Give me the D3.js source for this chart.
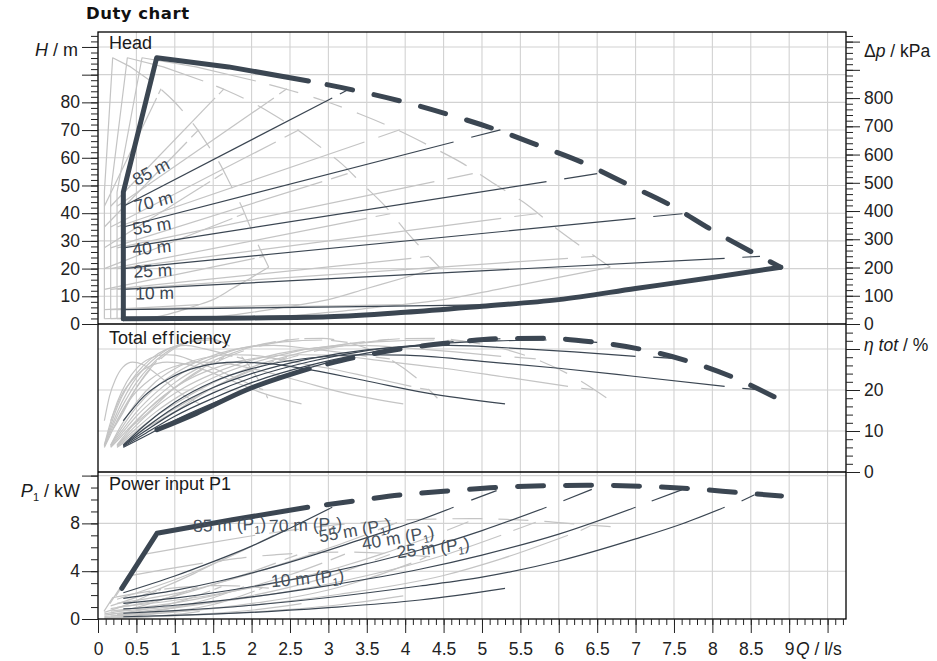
<!DOCTYPE html>
<html>
<head>
<meta charset="utf-8">
<script src="https://cdn.jsdelivr.net/npm/d3@7"></script>
<style>
  body { margin: 0; background: #fff; }
  text { font-family: "Liberation Sans", Arial, sans-serif; }
</style>
</head>
<body>
<script>
// ---------- data: Q in l/s, H in m, eta in %, P1 in kW ----------
// curves for 1, 2, 3 pumps (grey) and 4 pumps (dark)
// each "Prop" list: 85 m, 70 m, 55 m, 40 m, 25 m, 10 m ; [solid part, dashed end]
const propLabels = ["85 m", "70 m", "55 m", "40 m", "25 m", "10 m"];
const xTickLabels = [0, 0.5, 1, 1.5, 2, 2.5, 3, 3.5, 4, 4.5, 5, 5.5, 6, 6.5, 7, 7.5, 8, 8.5, 9];
const hTickLabels = [0, 10, 20, 30, 40, 50, 60, 70, 80];
const kpaTickLabels = [0, 100, 200, 300, 400, 500, 600, 700, 800];
const etaTickLabels = [0, 10, 20];
const pTickLabels = [0, 4, 8];

// Head
const head4Env = [[0.33,1.9],[0.33,47.6],[0.764,96.1],[1.7,92.8],[2.74,87.7]];
const head4Max = [[2.74,87.7],[3.35,84.3],[3.95,80.4],[4.53,75.9],[5.21,69.9],[5.74,64.4],[6.35,57.8],[6.88,50.6],[7.46,42.8],[7.99,34.0],[8.54,25.6],[8.89,20.5]];
const head4Min = [[0.33,1.9],[1,2.0],[2,2.2],[3,2.6],[4,4.2],[5,6.4],[6,8.8],[7,12.8],[8,16.8],[8.89,20.5]];
const head4Prop = [
  [[[0.33,42.5],[3.05,81.6]], [[3.15,83.0],[3.28,84.9]]],
  [[[0.33,35.0],[4.63,65.7]], [[4.86,67.4],[5.24,70.1]]],
  [[[0.33,27.5],[5.84,51.4]], [[6.07,52.4],[6.50,54.3]]],
  [[[0.33,20.0],[7.00,38.1]], [[7.23,38.8],[7.61,39.8]]],
  [[[0.33,12.5],[8.16,23.7]], [[8.39,24.1],[8.62,24.4]]],
  [[[0.33,5.2],[3.15,6.2],[5.25,7.0]], []]
];
const head3Env = [[0.248,1.9],[0.248,47.6],[0.573,96.1],[1.275,92.8],[2.055,87.7]];
const head3Max = [[2.055,87.7],[2.51,84.3],[2.96,80.4],[3.40,75.9],[3.91,69.9],[4.31,64.4],[4.76,57.8],[5.16,50.6],[5.60,42.8],[5.99,34.0],[6.41,25.6],[6.67,20.5]];
const head3Min = [[0.248,1.9],[0.75,2.0],[1.5,2.2],[2.25,2.6],[3.0,4.2],[3.75,6.4],[4.5,8.8],[5.25,12.8],[6.0,16.8],[6.67,20.5]];
const head3Prop = [
  [[[0.248,42.5],[2.29,81.6]], [[2.36,83.0],[2.46,84.9]]],
  [[[0.248,35.0],[3.47,65.7]], [[3.65,67.4],[3.93,70.1]]],
  [[[0.248,27.5],[4.38,51.4]], [[4.55,52.4],[4.88,54.3]]],
  [[[0.248,20.0],[5.25,38.1]], [[5.42,38.8],[5.71,39.8]]],
  [[[0.248,12.5],[6.12,23.7]], [[6.29,24.1],[6.47,24.4]]],
  [[[0.248,5.2],[2.36,6.2],[3.94,7.0]], []]
];
const head2Env = [[0.165,1.9],[0.165,47.6],[0.382,96.1],[0.85,92.8],[1.37,87.7]];
const head2Max = [[1.37,87.7],[1.675,84.3],[1.975,80.4],[2.265,75.9],[2.605,69.9],[2.87,64.4],[3.175,57.8],[3.44,50.6],[3.73,42.8],[3.995,34.0],[4.27,25.6],[4.445,20.5]];
const head2Min = [[0.165,1.9],[0.5,2.0],[1.0,2.2],[1.5,2.6],[2.0,4.2],[2.5,6.4],[3.0,8.8],[3.5,12.8],[4.0,16.8],[4.445,20.5]];
const head2Prop = [
  [[[0.165,42.5],[1.525,81.6]], [[1.575,83.0],[1.64,84.9]]],
  [[[0.165,35.0],[2.315,65.7]], [[2.43,67.4],[2.62,70.1]]],
  [[[0.165,27.5],[2.92,51.4]], [[3.035,52.4],[3.25,54.3]]],
  [[[0.165,20.0],[3.50,38.1]], [[3.615,38.8],[3.805,39.8]]],
  [[[0.165,12.5],[4.08,23.7]], [[4.195,24.1],[4.31,24.4]]],
  [[[0.165,5.2],[1.575,6.2],[2.625,7.0]], []]
];
const head1Env = [[0.083,1.9],[0.083,47.6],[0.191,96.1],[0.425,92.8],[0.685,87.7]];
const head1Max = [[0.685,87.7],[0.838,84.3],[0.988,80.4],[1.133,75.9],[1.303,69.9],[1.435,64.4],[1.588,57.8],[1.72,50.6],[1.865,42.8],[1.998,34.0],[2.135,25.6],[2.223,20.5]];
const head1Min = [[0.083,1.9],[0.25,2.0],[0.5,2.2],[0.75,2.6],[1.0,4.2],[1.25,6.4],[1.5,8.8],[1.75,12.8],[2.0,16.8],[2.223,20.5]];
const head1Prop = [
  [[[0.083,42.5],[0.763,81.6]], [[0.788,83.0],[0.82,84.9]]],
  [[[0.083,35.0],[1.158,65.7]], [[1.215,67.4],[1.31,70.1]]],
  [[[0.083,27.5],[1.46,51.4]], [[1.518,52.4],[1.625,54.3]]],
  [[[0.083,20.0],[1.75,38.1]], [[1.808,38.8],[1.903,39.8]]],
  [[[0.083,12.5],[2.04,23.7]], [[2.098,24.1],[2.155,24.4]]],
  [[[0.083,5.2],[0.788,6.2],[1.313,7.0]], []]
];

// Total efficiency
const eff4MaxSolid = [[0.768,10.3],[1.28,14.3],[1.93,20.0],[2.75,25.2]];
const eff4MaxDash = [[2.75,25.2],[3.36,28.0],[3.97,30.1],[4.58,31.5],[5.21,32.5],[5.84,32.6],[6.45,31.7],[7.08,29.9],[7.69,27.0],[8.27,23.1],[8.84,18.0]];
const eff4Prop = [
  [[[0.33,6.0],[0.6,8.6],[1.0,12.6],[1.5,16.8],[2.0,20.6],[2.5,24.0],[3.05,27.0]], [[3.15,27.4],[3.28,27.9]]],
  [[[0.33,6.2],[0.6,9.2],[1.0,13.6],[1.5,18.0],[2.0,21.8],[2.75,26.0],[3.5,29.0],[4.2,31.0],[4.63,31.8]], [[4.86,32.1],[5.24,32.5]]],
  [[[0.33,6.4],[0.6,9.8],[1.0,14.6],[1.5,19.3],[2.0,23.0],[2.75,26.9],[3.5,29.6],[4.5,31.4],[5.2,32.0],[5.84,32.2]], [[6.07,32.1],[6.5,31.6]]],
  [[[0.33,6.5],[0.6,10.5],[1.0,15.8],[1.5,20.6],[2.0,24.0],[2.75,27.6],[3.5,29.8],[4.58,30.9],[5.5,30.1],[6.2,29.3],[7.0,28.2]], [[7.23,28.0],[7.6,27.6]]],
  [[[0.33,6.6],[0.6,11.3],[1.0,17.0],[1.5,22.0],[2.0,25.2],[2.75,27.8],[3.5,28.6],[4.0,28.5],[5.0,27.0],[6.0,25.3],[7.0,23.3],[8.16,20.9]], [[8.39,20.4],[8.6,20.1]]],
  [[[0.33,12.5],[0.6,18.5],[0.9,22.5],[1.3,25.6],[1.8,26.8],[2.3,26.3],[2.77,24.9],[3.5,22.2],[4.27,19.3],[5.3,16.6]], []]
];
const eff3MaxSolid = [[0.576,10.3],[0.96,14.3],[1.448,20.0],[2.063,25.2]];
const eff3MaxDash = [[2.063,25.2],[2.52,28.0],[2.978,30.1],[3.435,31.5],[3.908,32.5],[4.38,32.6],[4.838,31.7],[5.31,29.9],[5.768,27.0],[6.203,23.1],[6.63,18.0]];
const eff3Prop = [
  [[[0.248,6.0],[0.45,8.6],[0.75,12.6],[1.125,16.8],[1.5,20.6],[1.875,24.0],[2.288,27.0]], [[2.363,27.4],[2.46,27.9]]],
  [[[0.248,6.2],[0.45,9.2],[0.75,13.6],[1.125,18.0],[1.5,21.8],[2.063,26.0],[2.625,29.0],[3.15,31.0],[3.473,31.8]], [[3.645,32.1],[3.93,32.5]]],
  [[[0.248,6.4],[0.45,9.8],[0.75,14.6],[1.125,19.3],[1.5,23.0],[2.063,26.9],[2.625,29.6],[3.375,31.4],[3.9,32.0],[4.38,32.2]], [[4.553,32.1],[4.875,31.6]]],
  [[[0.248,6.5],[0.45,10.5],[0.75,15.8],[1.125,20.6],[1.5,24.0],[2.063,27.6],[2.625,29.8],[3.435,30.9],[4.125,30.1],[4.65,29.3],[5.25,28.2]], [[5.423,28.0],[5.7,27.6]]],
  [[[0.248,6.6],[0.45,11.3],[0.75,17.0],[1.125,22.0],[1.5,25.2],[2.063,27.8],[2.625,28.6],[3.0,28.5],[3.75,27.0],[4.5,25.3],[5.25,23.3],[6.12,20.9]], [[6.293,20.4],[6.45,20.1]]],
  [[[0.248,12.5],[0.45,18.5],[0.675,22.5],[0.975,25.6],[1.35,26.8],[1.725,26.3],[2.078,24.9],[2.625,22.2],[3.203,19.3],[3.975,16.6]], []]
];
const eff2MaxSolid = [[0.384,10.3],[0.64,14.3],[0.965,20.0],[1.375,25.2]];
const eff2MaxDash = [[1.375,25.2],[1.68,28.0],[1.985,30.1],[2.29,31.5],[2.605,32.5],[2.92,32.6],[3.225,31.7],[3.54,29.9],[3.845,27.0],[4.135,23.1],[4.42,18.0]];
const eff2Prop = [
  [[[0.165,6.0],[0.3,8.6],[0.5,12.6],[0.75,16.8],[1.0,20.6],[1.25,24.0],[1.525,27.0]], [[1.575,27.4],[1.64,27.9]]],
  [[[0.165,6.2],[0.3,9.2],[0.5,13.6],[0.75,18.0],[1.0,21.8],[1.375,26.0],[1.75,29.0],[2.1,31.0],[2.315,31.8]], [[2.43,32.1],[2.62,32.5]]],
  [[[0.165,6.4],[0.3,9.8],[0.5,14.6],[0.75,19.3],[1.0,23.0],[1.375,26.9],[1.75,29.6],[2.25,31.4],[2.6,32.0],[2.92,32.2]], [[3.035,32.1],[3.25,31.6]]],
  [[[0.165,6.5],[0.3,10.5],[0.5,15.8],[0.75,20.6],[1.0,24.0],[1.375,27.6],[1.75,29.8],[2.29,30.9],[2.75,30.1],[3.1,29.3],[3.5,28.2]], [[3.615,28.0],[3.8,27.6]]],
  [[[0.165,6.6],[0.3,11.3],[0.5,17.0],[0.75,22.0],[1.0,25.2],[1.375,27.8],[1.75,28.6],[2.0,28.5],[2.5,27.0],[3.0,25.3],[3.5,23.3],[4.08,20.9]], [[4.195,20.4],[4.3,20.1]]],
  [[[0.165,12.5],[0.3,18.5],[0.45,22.5],[0.65,25.6],[0.9,26.8],[1.15,26.3],[1.385,24.9],[1.75,22.2],[2.135,19.3],[2.65,16.6]], []]
];
const eff1MaxSolid = [[0.192,10.3],[0.32,14.3],[0.483,20.0],[0.688,25.2]];
const eff1MaxDash = [[0.688,25.2],[0.84,28.0],[0.993,30.1],[1.145,31.5],[1.303,32.5],[1.46,32.6],[1.613,31.7],[1.77,29.9],[1.923,27.0],[2.068,23.1],[2.21,18.0]];
const eff1Prop = [
  [[[0.083,6.0],[0.15,8.6],[0.25,12.6],[0.375,16.8],[0.5,20.6],[0.625,24.0],[0.763,27.0]], [[0.788,27.4],[0.82,27.9]]],
  [[[0.083,6.2],[0.15,9.2],[0.25,13.6],[0.375,18.0],[0.5,21.8],[0.688,26.0],[0.875,29.0],[1.05,31.0],[1.158,31.8]], [[1.215,32.1],[1.31,32.5]]],
  [[[0.083,6.4],[0.15,9.8],[0.25,14.6],[0.375,19.3],[0.5,23.0],[0.688,26.9],[0.875,29.6],[1.125,31.4],[1.3,32.0],[1.46,32.2]], [[1.518,32.1],[1.625,31.6]]],
  [[[0.083,6.5],[0.15,10.5],[0.25,15.8],[0.375,20.6],[0.5,24.0],[0.688,27.6],[0.875,29.8],[1.145,30.9],[1.375,30.1],[1.55,29.3],[1.75,28.2]], [[1.808,28.0],[1.9,27.6]]],
  [[[0.083,6.6],[0.15,11.3],[0.25,17.0],[0.375,22.0],[0.5,25.2],[0.688,27.8],[0.875,28.6],[1.0,28.5],[1.25,27.0],[1.5,25.3],[1.75,23.3],[2.04,20.9]], [[2.098,20.4],[2.15,20.1]]],
  [[[0.083,12.5],[0.15,18.5],[0.225,22.5],[0.325,25.6],[0.45,26.8],[0.575,26.3],[0.693,24.9],[0.875,22.2],[1.068,19.3],[1.325,16.6]], []]
];

// Power input P1
const pow4MaxSolid = [[0.31,2.57],[0.768,7.17],[1.75,8.3],[2.73,9.35]];
const pow4MaxDash = [[2.73,9.35],[3.36,9.9],[3.97,10.4],[4.6,10.74],[5.23,11.02],[5.86,11.15],[6.47,11.2],[7.1,11.1],[7.73,10.9],[8.36,10.57],[8.9,10.3]];
const pow4Prop = [
  [[[0.33,2.2],[1.0,3.6],[1.5,4.8],[2.0,6.1],[2.5,7.6],[3.05,9.35]], [[3.15,9.6],[3.28,9.9]]],
  [[[0.33,1.73],[1.0,2.4],[1.6,3.2],[2.2,4.2],[2.8,5.35],[3.4,6.6],[3.9,7.65],[4.19,8.28],[4.63,9.35]], [[4.86,9.95],[5.19,10.74]]],
  [[[0.33,1.31],[1.0,1.75],[2.0,2.7],[3.0,3.9],[4.19,5.77],[5.0,7.4],[5.84,9.35]], [[6.06,9.9],[6.43,10.85]]],
  [[[0.33,0.84],[1.0,1.15],[2.0,1.85],[3.0,2.8],[4.19,4.16],[5.0,5.35],[6.0,7.1],[7.0,9.35]], [[7.21,9.87],[7.6,10.8]]],
  [[[0.33,0.48],[1.0,0.7],[2.0,1.15],[3.0,1.8],[4.19,2.76],[5.0,3.5],[6.0,4.85],[7.0,6.7],[7.6,7.95],[8.16,9.35]], [[8.38,9.87],[8.55,10.4]]],
  [[[0.33,0.19],[1.0,0.3],[2.0,0.55],[3.0,0.95],[4.19,1.59],[5.3,2.57]], []]
];
const pow3MaxSolid = [[0.233,1.93],[0.576,5.38],[1.313,6.23],[2.048,7.01]];
const pow3MaxDash = [[2.048,7.01],[2.52,7.43],[2.978,7.8],[3.45,8.06],[3.923,8.27],[4.395,8.36],[4.853,8.4],[5.325,8.33],[5.798,8.18],[6.27,7.93],[6.675,7.73]];
const pow3Prop = [
  [[[0.248,1.65],[1.125,3.6],[1.875,5.7],[2.288,7.01]], [[2.363,7.2],[2.46,7.43]]],
  [[[0.248,1.3],[1.2,2.4],[2.1,4.01],[2.925,5.74],[3.473,7.01]], [[3.645,7.46],[3.893,8.06]]],
  [[[0.248,0.98],[1.5,2.03],[3.143,4.33],[3.75,5.55],[4.38,7.01]], [[4.545,7.43],[4.823,8.14]]],
  [[[0.248,0.63],[1.5,1.39],[3.143,3.12],[4.5,5.33],[5.25,7.01]], [[5.408,7.4],[5.7,8.1]]],
  [[[0.248,0.36],[1.5,0.86],[3.143,2.07],[4.5,3.64],[5.25,5.03],[6.12,7.01]], [[6.285,7.4],[6.413,7.8]]],
  [[[0.248,0.14],[1.5,0.41],[3.143,1.19],[3.975,1.93]], []]
];
const pow2MaxSolid = [[0.155,1.29],[0.384,3.59],[0.875,4.15],[1.365,4.68]];
const pow2MaxDash = [[1.365,4.68],[1.68,4.95],[1.985,5.2],[2.3,5.37],[2.615,5.51],[2.93,5.58],[3.235,5.6],[3.55,5.55],[3.865,5.45],[4.18,5.29],[4.45,5.15]];
const pow2Prop = [
  [[[0.165,1.1],[0.75,2.4],[1.25,3.8],[1.525,4.68]], [[1.575,4.8],[1.64,4.95]]],
  [[[0.165,0.87],[0.8,1.6],[1.4,2.68],[1.95,3.83],[2.315,4.68]], [[2.43,4.98],[2.595,5.37]]],
  [[[0.165,0.66],[1.0,1.35],[2.095,2.89],[2.5,3.7],[2.92,4.68]], [[3.03,4.95],[3.215,5.43]]],
  [[[0.165,0.42],[1.0,0.93],[2.095,2.08],[3.0,3.55],[3.5,4.68]], [[3.605,4.94],[3.8,5.4]]],
  [[[0.165,0.24],[1.0,0.58],[2.095,1.38],[3.0,2.43],[3.5,3.35],[4.08,4.68]], [[4.19,4.94],[4.275,5.2]]],
  [[[0.165,0.1],[1.0,0.28],[2.095,0.8],[2.65,1.29]], []]
];
const pow1MaxSolid = [[0.078,0.64],[0.192,1.79],[0.438,2.08],[0.683,2.34]];
const pow1MaxDash = [[0.683,2.34],[0.84,2.48],[0.993,2.6],[1.15,2.69],[1.308,2.76],[1.465,2.79],[1.618,2.8],[1.775,2.78],[1.933,2.73],[2.09,2.64],[2.225,2.58]];
const pow1Prop = [
  [[[0.083,0.55],[0.375,1.2],[0.625,1.9],[0.763,2.34]], [[0.788,2.4],[0.82,2.48]]],
  [[[0.083,0.43],[0.4,0.8],[0.7,1.34],[0.975,1.91],[1.158,2.34]], [[1.215,2.49],[1.298,2.69]]],
  [[[0.083,0.33],[0.5,0.68],[1.048,1.44],[1.25,1.85],[1.46,2.34]], [[1.515,2.48],[1.608,2.71]]],
  [[[0.083,0.21],[0.5,0.46],[1.048,1.04],[1.5,1.78],[1.75,2.34]], [[1.803,2.47],[1.9,2.7]]],
  [[[0.083,0.12],[0.5,0.29],[1.048,0.69],[1.5,1.21],[1.75,1.68],[2.04,2.34]], [[2.095,2.47],[2.138,2.6]]],
  [[[0.083,0.05],[0.5,0.14],[1.048,0.4],[1.325,0.64]], []]
];

// ---------- layout ----------
const w = 937, h = 661;
const plotL = 98, plotR = 846, plotT = 32, sepA = 324, sepB = 472, plotB = 619;
const darkC = "#3b4652", greyC = "#c4c4c4", gridC = "#d2d2d2", textC = "#1a1a1a";
const fs = 17.5;

const x = d3.scaleLinear().domain([0, 9.74]).range([plotL, plotR]);
const yH = d3.scaleLinear().domain([0, 105.4]).range([sepA, plotT]);
const yKpa = d3.scaleLinear().domain([0, 1034]).range([sepA, plotT]);
const yE = d3.scaleLinear().domain([0, 36.1]).range([sepB, sepA]);
const yP = d3.scaleLinear().domain([0, 12.3]).range([plotB, sepB]);

const svg = d3.select("body").append("svg")
  .attr("width", w).attr("height", h);

// grid
const grid = svg.append("g").attr("stroke", gridC).attr("stroke-width", 1.1);
grid.selectAll(".gx").data(d3.range(1, 20).map(i => i * 0.5)).join("line")
  .attr("x1", d => x(d)).attr("x2", d => x(d)).attr("y1", plotT).attr("y2", plotB);
grid.selectAll(".gh").data(d3.range(1, 11).map(i => i * 10)).join("line")
  .attr("x1", plotL).attr("x2", plotR).attr("y1", d => yH(d)).attr("y2", d => yH(d));
grid.selectAll(".ge").data([10, 20, 30]).join("line")
  .attr("x1", plotL).attr("x2", plotR).attr("y1", d => yE(d)).attr("y2", d => yE(d));
grid.selectAll(".gp").data([4, 8, 12]).join("line")
  .attr("x1", plotL).attr("x2", plotR).attr("y1", d => yP(d)).attr("y2", d => yP(d));

// line helper
function line(g, pts, y, col, wid, curve) {
  if (!pts || pts.length < 2) return null;
  return g.append("path").datum(pts)
    .attr("d", d3.line().curve(curve || d3.curveLinear).x(d => x(d[0])).y(d => y(d[1])))
    .attr("fill", "none").attr("stroke", col).attr("stroke-width", wid)
    .attr("stroke-linejoin", "round");
}
const mono = d3.curveMonotoneX;

const greyG = svg.append("g");
const darkG = svg.append("g");

// grey sets (1, 2, 3 pumps)
[[head1Env, head1Max, head1Min, head1Prop],
 [head2Env, head2Max, head2Min, head2Prop],
 [head3Env, head3Max, head3Min, head3Prop]].forEach(([env, mx, mn, pr]) => {
  line(greyG, env, yH, greyC, 1.2);
  line(greyG, mx, yH, greyC, 1.2, mono).attr("stroke-dasharray", "30 16").attr("stroke-dashoffset", 32);
  line(greyG, mn, yH, greyC, 1.2, mono);
  pr.forEach(([s, d]) => { line(greyG, s, yH, greyC, 1.2); line(greyG, d, yH, greyC, 1.2); });
});
[[eff1MaxSolid, eff1MaxDash, eff1Prop, yE, mono],
 [eff2MaxSolid, eff2MaxDash, eff2Prop, yE, mono],
 [eff3MaxSolid, eff3MaxDash, eff3Prop, yE, mono],
 [pow1MaxSolid, pow1MaxDash, pow1Prop, yP, null],
 [pow2MaxSolid, pow2MaxDash, pow2Prop, yP, null],
 [pow3MaxSolid, pow3MaxDash, pow3Prop, yP, null]].forEach(([ms, md, pr, y, c]) => {
  line(greyG, ms, y, greyC, 1.2, c);
  line(greyG, md, y, greyC, 1.2, mono).attr("stroke-dasharray", "30 16").attr("stroke-dashoffset", 32);
  pr.forEach(([s, d]) => { line(greyG, s, y, greyC, 1.2, mono); line(greyG, d, y, greyC, 1.2); });
});

// dark set (4 pumps): thin lines
head4Prop.forEach(([s, d]) => { line(darkG, s, yH, darkC, 1.2); line(darkG, d, yH, darkC, 1.2); });
eff4Prop.forEach(([s, d]) => { line(darkG, s, yE, darkC, 1.2, mono); line(darkG, d, yE, darkC, 1.2); });
pow4Prop.forEach(([s, d]) => { line(darkG, s, yP, darkC, 1.2, mono); line(darkG, d, yP, darkC, 1.2); });

// dark set: thick envelope
function thick(pts, y, curve) {
  return line(darkG, pts, y, darkC, 5, curve).attr("stroke-linecap", "round");
}
function thickDash(pts, y) {
  return thick(pts, y, mono).attr("stroke-dasharray", "26 22").attr("stroke-dashoffset", 29);
}
thick(head4Env, yH);
thick(head4Min, yH, mono);
thickDash(head4Max, yH);
thick(eff4MaxSolid, yE, mono);
thickDash(eff4MaxDash, yE);
thick(pow4MaxSolid, yP);
thickDash(pow4MaxDash, yP);

// labels on the head lines
const along = [21, 16, 12, 11, 11, 12], perp = [-12, -11, -11, -12, -11, -10];
head4Prop.forEach(([s], i) => {
  const a = s[0], b = s[s.length - 1];
  const ang = Math.atan2(yH(b[1]) - yH(a[1]), x(b[0]) - x(a[0])) * 180 / Math.PI;
  svg.append("text")
    .attr("transform", `translate(${x(a[0])},${yH(a[1])}) rotate(${ang})`)
    .attr("x", along[i]).attr("y", perp[i])
    .attr("font-size", fs).attr("fill", darkC)
    .text(propLabels[i]);
});

// labels on the power lines
const powLabelPos = [[1.24, 7.28, -2], [2.23, 7.28, -2], [2.89, 6.4, -10], [3.45, 5.77, -10], [3.9, 5.08, -7], [2.26, 2.65, -5]];
powLabelPos.forEach(([q, p, r], i) => {
  const t = svg.append("text")
    .attr("transform", `translate(${x(q)},${yP(p)}) rotate(${r})`)
    .attr("font-size", fs).attr("fill", "#46515c");
  t.append("tspan").text(propLabels[i] + " (P");
  t.append("tspan").attr("font-size", 11).attr("dy", 4).text("1");
  t.append("tspan").attr("dy", -4).text(")");
});

// frame
const frame = svg.append("g").attr("stroke", "#000").attr("stroke-width", 1.3).attr("fill", "none");
frame.append("rect").attr("x", plotL).attr("y", plotT).attr("width", plotR - plotL).attr("height", plotB - plotT);
[sepA, sepB].forEach(v => frame.append("line").attr("x1", plotL).attr("x2", plotR).attr("y1", v).attr("y2", v));

// axes
function ax(axisFn, scale, values, size, pad, fmt, tx, ty) {
  const g = svg.append("g").attr("transform", `translate(${tx},${ty})`)
    .call(axisFn(scale).tickValues(values).tickSize(size).tickPadding(pad).tickFormat(fmt));
  g.select(".domain").remove();
  g.attr("font-size", fs).attr("font-family", null).attr("color", "#222");
  return g;
}
const none = () => "";
// Head, left
ax(d3.axisLeft, yH, d3.range(0, 53).map(i => i * 2), 7, 2, none, plotL, 0);
ax(d3.axisLeft, yH, d3.range(0, 11).map(i => i * 10), 16, 2, d => hTickLabels.includes(d) ? d : "", plotL, 0);
// kPa, right
ax(d3.axisRight, yKpa, d3.range(0, 52).map(i => i * 20), 7, 4, none, plotR, 0);
ax(d3.axisRight, yKpa, d3.range(0, 11).map(i => i * 100), 14, 4, d => kpaTickLabels.includes(d) ? d : "", plotR, 0);
// eta, right
ax(d3.axisRight, yE, d3.range(0, 18).map(i => i * 2), 7, 4, none, plotR, 0);
ax(d3.axisRight, yE, [0, 10, 20, 30], 14, 4, d => etaTickLabels.includes(d) ? d : "", plotR, 0);
// P1, left
ax(d3.axisLeft, yP, d3.range(0, 13), 7, 2, none, plotL, 0);
ax(d3.axisLeft, yP, [0, 4, 8, 12], 16, 2, d => pTickLabels.includes(d) ? d : "", plotL, 0);
// Q, bottom
ax(d3.axisBottom, x, d3.range(0, 98).map(i => i / 10), 6, 2, none, 0, plotB);
ax(d3.axisBottom, x, d3.range(0, 20).map(i => i * 0.5), 14, 10, d => xTickLabels.includes(d) ? d : "", 0, plotB);

// titles and axis names
svg.append("text").attr("x", 86).attr("y", 19)
  .style("font-family", "'DejaVu Sans', Verdana, sans-serif")
  .attr("font-weight", "bold").attr("font-size", 16.5).attr("letter-spacing", 0.5)
  .attr("fill", "#111").text("Duty chart");

svg.append("text").attr("x", 109).attr("y", 49).attr("font-size", fs + 0.5).attr("fill", textC).text("Head");
const te = svg.append("text").attr("x", 109).attr("y", 344).attr("font-size", fs + 0.5).attr("fill", textC);
te.append("tspan").text("Total ef");
te.append("tspan").attr("dx", 2).text("f");
te.append("tspan").attr("dx", 2).text("iciency");
svg.append("text").attr("x", 109).attr("y", 490).attr("font-size", fs + 0.5).attr("fill", textC).text("Power input P1");

const hl = svg.append("text").attr("x", 78).attr("y", 56).attr("text-anchor", "end").attr("font-size", fs + 0.5).attr("fill", textC);
hl.append("tspan").attr("font-style", "italic").text("H");
hl.append("tspan").text(" /  m");

const pl = svg.append("text").attr("x", 80).attr("y", 497).attr("text-anchor", "end").attr("font-size", fs + 0.5).attr("fill", textC);
pl.append("tspan").attr("font-style", "italic").text("P");
pl.append("tspan").attr("font-size", 11).attr("dy", 4).text("1");
pl.append("tspan").attr("dy", -4).text(" / kW");

const kl = svg.append("text").attr("x", 864).attr("y", 57).attr("font-size", fs).attr("fill", textC);
kl.append("tspan").text("\u0394");
kl.append("tspan").attr("font-style", "italic").text("p");
kl.append("tspan").text(" / kPa");

const el = svg.append("text").attr("x", 864).attr("y", 351).attr("font-size", fs).attr("fill", textC);
el.append("tspan").attr("font-style", "italic").text("\u03b7 tot");
el.append("tspan").text(" / %");

const ql = svg.append("text").attr("x", 796).attr("y", 655).attr("font-size", fs).attr("fill", textC);
ql.append("tspan").attr("font-style", "italic").text("Q");
ql.append("tspan").text(" / l/s");
</script>
</body>
</html>
